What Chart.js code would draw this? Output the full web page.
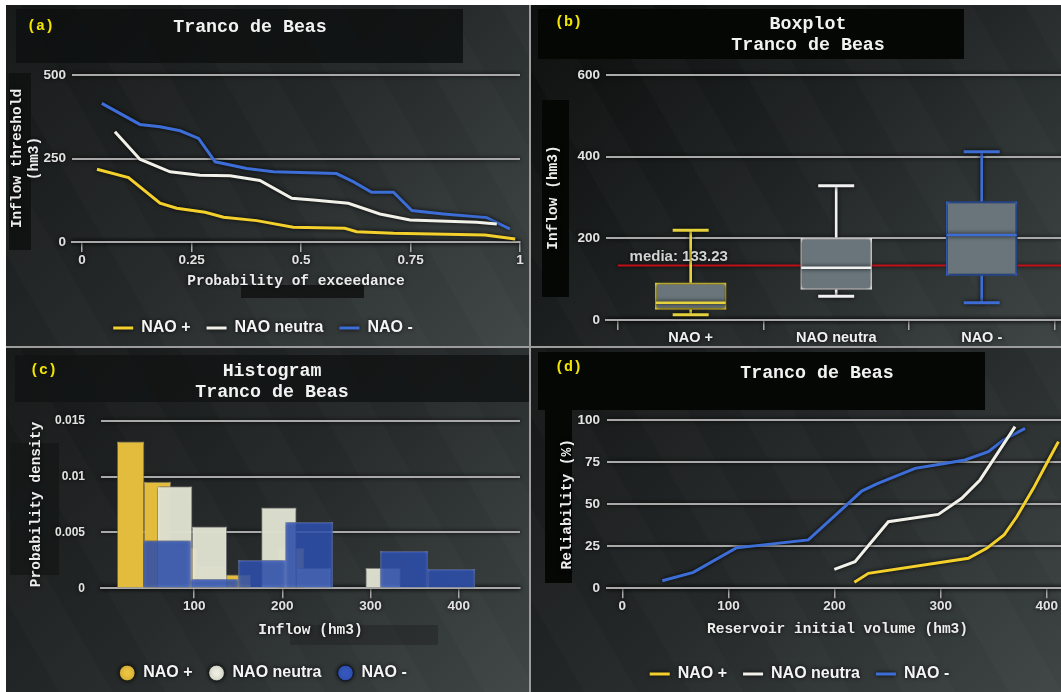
<!DOCTYPE html>
<html>
<head>
<meta charset="utf-8">
<script src="https://cdn.jsdelivr.net/npm/chart.js@4.4.0/dist/chart.umd.min.js"></script>
<style>
  body { margin: 0; width: 1061px; height: 692px; background: #fff; position: relative; overflow: hidden; }
  #frame { position: absolute; left: 6px; top: 5px; width: 1055px; height: 687px; background: #9c9c9c; }
  .panel { position: absolute; overflow: hidden;
    background:
      repeating-linear-gradient(60deg, rgba(255,255,255,0) 0 46px, rgba(255,255,255,0.014) 46px 92px),
      linear-gradient(135deg, #151717 0%, #252929 50%, #3f4545 100%); }
  #pb { background:
      repeating-linear-gradient(60deg, rgba(255,255,255,0) 0 46px, rgba(255,255,255,0.014) 46px 92px),
      linear-gradient(135deg, #0a0c0b 0%, #202424 50%, #3d4343 100%); }
  .panel canvas { position: absolute; left: 0; top: 0; }
  .box { position: absolute; }
  .ttl { position: absolute; font: bold 18.3px 'Liberation Mono', 'Courier New', monospace; color: #f2f2f2;
    text-align: center; line-height: 21px; white-space: pre; transform: translateX(-50%); }
  .tag { position: absolute; font: bold 15px 'Liberation Mono', 'Courier New', monospace; color: #f2e400; line-height: 18px; }
</style>
</head>
<body>
<div id="frame"></div>

<div class="panel" id="pa" style="left:6px;top:5px;width:523px;height:341px">
  <div class="box" style="left:10px;top:4px;width:447px;height:54px;background:rgba(14,16,16,0.85)"></div>
  <div class="box" style="left:3px;top:68px;width:22px;height:177px;background:#111313"></div>
  <div class="box" style="left:235px;top:280px;width:123px;height:13px;background:#151717"></div>
  <canvas id="ca" width="523" height="341"></canvas>
  <div class="tag" style="left:21px;top:13px">(a)</div>
  <div class="ttl" style="left:244px;top:12px">Tranco de Beas</div>
</div>

<div class="panel" id="pb" style="left:531px;top:5px;width:530px;height:341px">
  <div class="box" style="left:7px;top:4px;width:426px;height:50px;background:#050705"></div>
  <div class="box" style="left:11px;top:95px;width:27px;height:197px;background:#050705"></div>
  <canvas id="cb" width="538" height="341"></canvas>
  <div class="tag" style="left:24px;top:9px">(b)</div>
  <div class="ttl" style="left:277px;top:9px">Boxplot
Tranco de Beas</div>
</div>

<div class="panel" id="pc" style="left:6px;top:348px;width:523px;height:344px">
  <div class="box" style="left:9px;top:7px;width:514px;height:47px;background:rgba(18,20,20,0.85)"></div>
  <div class="box" style="left:4px;top:95px;width:49px;height:132px;background:rgba(22,24,24,0.9)"></div>
  <div class="box" style="left:284px;top:277px;width:148px;height:20px;background:rgba(30,33,33,0.45)"></div>
  <canvas id="cc" width="523" height="344"></canvas>
  <div class="tag" style="left:24px;top:14px">(c)</div>
  <div class="ttl" style="left:266px;top:13px">Histogram
Tranco de Beas</div>
</div>

<div class="panel" id="pd" style="left:531px;top:348px;width:530px;height:344px">
  <div class="box" style="left:7px;top:4px;width:447px;height:58px;background:#050705"></div>
  <div class="box" style="left:14px;top:62px;width:27px;height:173px;background:#050705"></div>
  <canvas id="cd" width="537" height="344"></canvas>
  <div class="tag" style="left:24px;top:11px">(d)</div>
  <div class="ttl" style="left:286px;top:15px">Tranco de Beas</div>
</div>

<script>
// (a) exceedance curves
const A_X_POS = [0.034, 0.106, 0.178, 0.216, 0.281, 0.323, 0.399, 0.482, 0.600, 0.627, 0.711, 0.920, 0.989];
const A_Y_POS = [218, 193, 116, 101, 89, 74, 64, 44, 41, 31, 26, 21, 9];
const A_X_NEU = [0.075, 0.132, 0.201, 0.269, 0.338, 0.406, 0.479, 0.528, 0.608, 0.680, 0.749, 0.901, 0.947];
const A_Y_NEU = [330, 248, 210, 200, 198, 184, 131, 126, 116, 84, 66, 59, 54];
const A_X_NEG = [0.045, 0.132, 0.178, 0.224, 0.266, 0.304, 0.376, 0.437, 0.581, 0.620, 0.661, 0.711, 0.753, 0.825, 0.924, 0.977];
const A_Y_NEG = [415, 352, 345, 333, 310, 240, 220, 210, 205, 180, 149, 149, 94, 84, 73, 39];
const A_X_TICKS = [0, 0.25, 0.5, 0.75, 1];
const A_Y_TICKS = [0, 250, 500];

// (b) boxplot
const CATS = ['NAO +', 'NAO neutra', 'NAO -'];
const BOX_MIN = [13, 58, 42];
const BOX_Q1 = [26, 75, 109];
const BOX_MED = [42, 128, 208];
const BOX_Q3 = [91, 201, 290];
const BOX_MAX = [220, 329, 412];
const MEAN_ALL = 133.23;
const B_Y_TICKS = [0, 200, 400, 600];

// (c) histogram (bin centres, densities)
const C_BIN_POS = [27.95, 58.25, 88.55, 118.85, 149.15, 179.45, 209.75];
const C_DEN_POS = [0.0131, 0.0095, 0.0036, 0.0020, 0.0012, 0, 0.0036];
const C_BIN_NEU = [77.9, 117.3, 156.7, 196.1, 235.5, 274.9, 314.3];
const C_DEN_NEU = [0.0091, 0.0055, 0, 0.0072, 0.0018, 0, 0.0018];
const C_BIN_NEG = [69.45, 123.15, 176.85, 230.55, 284.25, 337.95, 391.65];
const C_DEN_NEG = [0.00425, 0.0008, 0.0025, 0.0059, 0, 0.0033, 0.0017];
const C_X_TICKS = [100, 200, 300, 400];
const C_Y_TICKS = [0, 0.005, 0.01, 0.015];

// (d) reliability curves
const D_X_POS = [218.7, 231.9, 326.1, 343.4, 359.7, 371.7, 387.4, 400, 411];
const D_Y_POS = [3.6, 8.9, 17.9, 23.8, 31.7, 42.6, 59.5, 74.4, 87.3];
const D_X_NEU = [199.8, 219.3, 250.7, 297.8, 319.9, 337.1, 370.1];
const D_Y_NEU = [11.3, 15.8, 39.6, 44, 53.6, 64.5, 96.2];
const D_X_NEG = [37.7, 66.9, 107.8, 126.7, 175.3, 211.5, 225.6, 239.8, 275.9, 299.4, 323, 345, 359.1, 379.5];
const D_Y_NEG = [4.5, 9.5, 24.2, 25.4, 28.8, 49.6, 57.9, 62.1, 71.4, 73.8, 76.4, 81.3, 88.3, 95.2];
const D_X_TICKS = [0, 100, 200, 300, 400];
const D_Y_TICKS = [0, 25, 50, 75, 100];

const YELLOW = '#f3d02c', WHITE = '#f1f1ea', BLUE = '#3d6ed8';
const BOX_COLORS = ['#e6d23c', '#f0f0f0', '#3c6cd4'];
const HIST_SOLID = ['#ecc440', '#ecede0', '#3558c0'];
const GRID = '#a9a9a9';
const MONO = "'Liberation Mono', 'Courier New', monospace";
const SANS = "'Liberation Sans', Arial, sans-serif";

Chart.defaults.animation = false;
Chart.defaults.font.family = SANS;
Chart.defaults.color = '#e6e6e6';
Chart.defaults.layout.autoPadding = false;

const tickFont = { family: SANS, size: 13.5, weight: 'bold' };
const titleFont = { family: MONO, size: 14.5, weight: 'bold', lineHeight: 1.2 };

// dark halo around everything, like the original
const glow = {
  id: 'glow',
  beforeDraw(chart) { const c = chart.ctx; c.save(); c.shadowColor = 'rgba(0,0,0,0.9)'; c.shadowBlur = 4; },
  afterDraw(chart) { chart.ctx.restore(); }
};

const meanLabel = {
  id: 'meanLabel',
  afterDatasetsDraw(chart) {
    const { ctx, scales: { x, y } } = chart;
    ctx.save();
    ctx.font = 'bold 15px ' + SANS;
    ctx.fillStyle = '#d2d2d2';
    ctx.textBaseline = 'bottom';
    ctx.fillText('media: ' + MEAN_ALL.toFixed(2), x.getPixelForValue(-0.42), y.getPixelForValue(MEAN_ALL) - 1);
    ctx.restore();
  }
};

function pts(xs, ys) { return xs.map((x, i) => ({ x, y: ys[i] })); }
function fixTicks(values) { return s => { s.ticks = values.map(v => ({ value: v })); }; }
function width(w) { return s => { s.width = w; }; }
function height(h) { return s => { s.height = h; s.paddingLeft = 0; s.paddingRight = 0; }; }

function lineSet(label, data, color) {
  return { label, data, borderColor: color, backgroundColor: color, borderWidth: 3,
    pointRadius: 0, pointStyle: 'line', tension: 0 };
}

function legendOpts(extra) {
  return { position: 'bottom',
    labels: Object.assign({ usePointStyle: true, pointStyleWidth: 20, color: '#f4f4f4',
      font: { family: SANS, size: 16, weight: 'bold' }, padding: 16,
      sort: (a, b) => a.datasetIndex - b.datasetIndex }, extra || {}) };
}

function xAxis(min, max, ticks, h, title, pb) {
  return { type: 'linear', min, max, offset: false, afterBuildTicks: fixTicks(ticks), afterFit: height(h),
    grid: { offset: false, drawOnChartArea: false, color: GRID, lineWidth: 1.5, tickLength: 10 },
    border: { color: GRID, width: 2 },
    ticks: { font: tickFont, padding: 0, color: '#e2e2e2', callback: v => String(v) },
    title: { display: true, text: title, font: titleFont, color: '#ececec', padding: { top: 0, bottom: pb } } };
}

function yAxis(min, max, ticks, w, title, pt, pad, font) {
  return { min, max, afterBuildTicks: fixTicks(ticks), afterFit: width(w),
    grid: { color: GRID, lineWidth: 2, drawTicks: false }, border: { display: false },
    ticks: { font: font || tickFont, padding: pad, color: '#e2e2e2', callback: v => String(v) },
    title: { display: true, text: title, font: titleFont, color: '#ececec', padding: { top: pt, bottom: 0 } } };
}

// (a)
new Chart(document.getElementById('ca'), {
  type: 'line',
  data: { datasets: [
    lineSet('NAO +', pts(A_X_POS, A_Y_POS), YELLOW),
    lineSet('NAO neutra', pts(A_X_NEU, A_Y_NEU), WHITE),
    lineSet('NAO -', pts(A_X_NEG, A_Y_NEG), BLUE)
  ] },
  options: {
    responsive: false,
    layout: { padding: { top: 70, right: 9, bottom: 0, left: 0 } },
    plugins: { legend: legendOpts(), tooltip: { enabled: false } },
    scales: {
      x: xAxis(-0.023, 1, A_X_TICKS, 62, 'Probability of exceedance', 14.3),
      y: yAxis(0, 500, A_Y_TICKS, 66, ['Inflow threshold', '(hm3)'], 2.3, 6)
    }
  },
  plugins: [glow]
});

// (b)
const bx = xAxis(-0.582, 2.6, [0, 1, 2], 26, '', 0);
bx.title = { display: false };
bx.grid.offset = true;
bx.ticks = { font: { family: SANS, size: 14.5, weight: 'bold' }, padding: -1, color: '#f0f0f0', callback: v => CATS[v] };

new Chart(document.getElementById('cb'), {
  type: 'bar',
  data: { datasets: [
    { type: 'line', label: 'media', data: [{ x: -0.5, y: MEAN_ALL }, { x: 2.6, y: MEAN_ALL }],
      borderColor: '#c01018', borderWidth: 2, pointRadius: 0, order: 4 },
    { label: 'low', data: CATS.map((c, i) => ({ x: i, y: [BOX_MIN[i], BOX_Q1[i]] })),
      backgroundColor: BOX_COLORS, barThickness: 2, order: 3 },
    { label: 'high', data: CATS.map((c, i) => ({ x: i, y: [BOX_Q3[i], BOX_MAX[i]] })),
      backgroundColor: BOX_COLORS, barThickness: 2, order: 3 },
    { label: 'box', data: CATS.map((c, i) => ({ x: i, y: [BOX_Q1[i], BOX_Q3[i]] })),
      backgroundColor: '#69757a', borderColor: BOX_COLORS, borderWidth: 2, borderSkipped: false,
      barThickness: 71, order: 2 },
    { type: 'line', label: 'caps', data: pts([0, 1, 2, 0, 1, 2], BOX_MIN.concat(BOX_MAX)), showLine: false,
      pointStyle: 'line', pointRadius: 18, pointBorderWidth: 3,
      pointBorderColor: BOX_COLORS.concat(BOX_COLORS), order: 1 },
    { type: 'line', label: 'median', data: pts([0, 1, 2], BOX_MED), showLine: false,
      pointStyle: 'line', pointRadius: 35, pointBorderWidth: 2.5, pointBorderColor: BOX_COLORS, order: 0 }
  ] },
  options: {
    responsive: false,
    datasets: { bar: { grouped: false } },
    layout: { padding: { top: 70, right: 0, bottom: 0, left: 0 } },
    plugins: { legend: { display: false }, tooltip: { enabled: false } },
    scales: {
      x: bx,
      y: yAxis(0, 600, B_Y_TICKS, 75, 'Inflow (hm3)', 13.3, 6)
    }
  },
  plugins: [glow, meanLabel]
});

// (c)
const cHidden = () => ({ type: 'linear', display: false, min: -5.67, max: 469.6, offset: false,
  afterBuildTicks: fixTicks(C_X_TICKS) });
const histLegend = legendOpts({ pointStyle: 'circle', boxHeight: 11, boxWidth: 16, pointStyleWidth: undefined,
  generateLabels: chart => Chart.defaults.plugins.legend.labels.generateLabels(chart)
    .map(item => Object.assign(item, { fillStyle: HIST_SOLID[item.datasetIndex], strokeStyle: 'rgba(0,0,0,0.6)', lineWidth: 1 })) });
new Chart(document.getElementById('cc'), {
  type: 'bar',
  data: { datasets: [
    { label: 'NAO +', data: pts(C_BIN_POS, C_DEN_POS), xAxisID: 'x',
      backgroundColor: 'rgba(236,196,64,0.96)', borderColor: 'rgba(255,240,190,0.55)', borderWidth: 1, order: 3 },
    { label: 'NAO neutra', data: pts(C_BIN_NEU, C_DEN_NEU), xAxisID: 'x2',
      backgroundColor: 'rgba(240,242,224,0.9)', borderColor: 'rgba(255,255,255,0.5)', borderWidth: 1, order: 2 },
    { label: 'NAO -', data: pts(C_BIN_NEG, C_DEN_NEG), xAxisID: 'x3',
      backgroundColor: 'rgba(58,100,220,0.68)', borderColor: 'rgba(150,170,235,0.6)', borderWidth: 1, order: 1 }
  ] },
  options: {
    responsive: false,
    datasets: { bar: { grouped: false, barPercentage: 1, categoryPercentage: 1 } },
    layout: { padding: { top: 72.7, right: 9, bottom: 1, left: 0 } },
    plugins: { legend: histLegend, tooltip: { enabled: false } },
    scales: {
      x: xAxis(-5.67, 469.6, C_X_TICKS, 60.7, 'Inflow (hm3)', 10.3),
      x2: cHidden(),
      x3: cHidden(),
      y: yAxis(0, 0.015, C_Y_TICKS, 95, 'Probability density', 21.3, 16, { family: SANS, size: 12, weight: 'bold' })
    }
  },
  plugins: [glow]
});

// (d)
new Chart(document.getElementById('cd'), {
  type: 'line',
  data: { datasets: [
    lineSet('NAO +', pts(D_X_POS, D_Y_POS), YELLOW),
    lineSet('NAO neutra', pts(D_X_NEU, D_Y_NEU), WHITE),
    lineSet('NAO -', pts(D_X_NEG, D_Y_NEG), BLUE)
  ] },
  options: {
    responsive: false,
    layout: { padding: { top: 72.3, right: 0, bottom: 0, left: 0 } },
    plugins: { legend: legendOpts(), tooltip: { enabled: false } },
    scales: {
      x: xAxis(-14.4, 420, D_X_TICKS, 61.7, 'Reservoir initial volume (hm3)', 12.3),
      y: yAxis(0, 100, D_Y_TICKS, 76, 'Reliability (%)', 27.8, 7)
    }
  },
  plugins: [glow]
});
</script>
</body>
</html>
